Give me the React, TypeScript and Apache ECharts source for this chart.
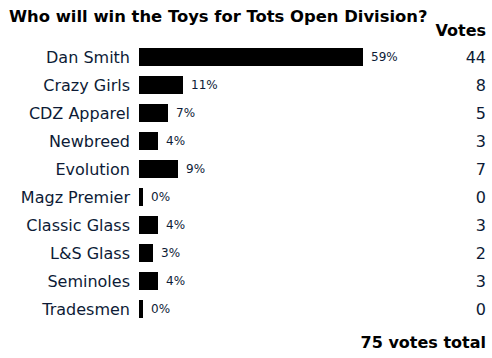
import React, { useEffect, useRef } from "react";
import * as echarts from "echarts";

const TITLE = "Who will win the Toys for Tots Open Division?";
const CATEGORIES = [
  "Dan Smith",
  "Crazy Girls",
  "CDZ Apparel",
  "Newbreed",
  "Evolution",
  "Magz Premier",
  "Classic Glass",
  "L&S Glass",
  "Seminoles",
  "Tradesmen",
];
const VOTES = [44, 8, 5, 3, 7, 0, 3, 2, 3, 0];

const TEXT = "#0d1b36";
const FONT = "DejaVu Sans, Verdana, sans-serif";
const STUB = 0.8; // visual minimum bar stub (4px)

export default function App() {
  const ref = useRef<HTMLDivElement>(null);
  useEffect(() => {
    if (!ref.current) return;
    const chart = echarts.init(ref.current, null, { renderer: "svg" });
    const total = VOTES.reduce((a, b) => a + b, 0);
    chart.setOption({
      animation: false,
      backgroundColor: "#fff",
      textStyle: { fontFamily: FONT },
      title: {
        text: TITLE,
        left: 4,
        top: 3,
        textStyle: { fontFamily: FONT, fontSize: 16.4, fontWeight: "bold", color: "#000" },
      },
      graphic: [
        {
          type: "text",
          right: 6,
          top: 22,
          style: { text: "Votes", font: `bold 16px ${FONT}`, fill: "#000" },
        },
        {
          type: "text",
          right: 6,
          top: 334,
          style: { text: `${total} votes total`, font: `bold 16px ${FONT}`, fill: "#000" },
        },
      ],
      grid: { left: 139, top: 43, width: 300, height: 280, containLabel: false },
      xAxis: {
        type: "value",
        min: 0,
        max: 60,
        show: false,
      },
      yAxis: [
        {
          type: "category",
          data: CATEGORIES,
          inverse: true,
          axisLine: { show: false },
          axisTick: { show: false },
          splitLine: { show: false },
          axisLabel: { fontSize: 16, color: TEXT, margin: 9, fontFamily: FONT },
        },
        {
          type: "category",
          data: VOTES.map(String),
          inverse: true,
          position: "right",
          axisLine: { show: false },
          axisTick: { show: false },
          splitLine: { show: false },
          axisLabel: { fontSize: 16, color: TEXT, margin: 47, align: "right", fontFamily: FONT },
        },
      ],
      series: [
        {
          type: "bar",
          stack: "v",
          barWidth: 18,
          data: CATEGORIES.map(() => STUB),
          itemStyle: { color: "#000" },
          silent: true,
        },
        {
          type: "bar",
          stack: "v",
          barWidth: 18,
          data: VOTES,
          itemStyle: { color: "#000" },
          label: {
            show: true,
            position: "right",
            distance: 8,
            fontSize: 12,
            color: TEXT,
            fontFamily: FONT,
            formatter: (p: any) => `${Math.round((p.value / total) * 100)}%`,
          },
        },
      ],
    });
    return () => chart.dispose();
  }, []);
  return (
    <div
      ref={ref}
      style={{ position: "fixed", left: 0, top: 0, width: 492, height: 358 }}
    />
  );
}
